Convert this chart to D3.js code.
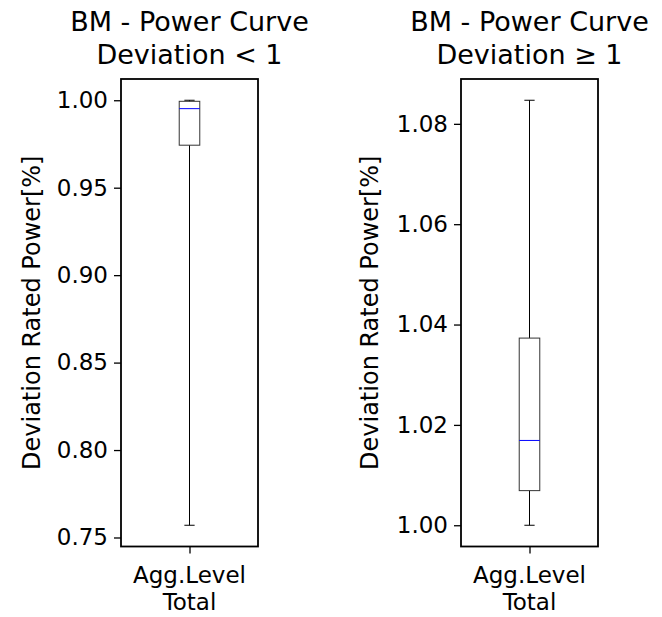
<!DOCTYPE html>
<html>
<head>
<meta charset="utf-8">
<script src="https://cdn.jsdelivr.net/npm/d3@7"></script>
<style>
  body { margin: 0; background: #fff; }
  text { font-family: "DejaVu Sans", sans-serif; fill: #000; }
</style>
</head>
<body>
<svg></svg>
<script>
// data: one box per panel, [whiskerLow, q1, median, q3, whiskerHigh]
const categories = ["Agg.Level\nTotal"];
const titles = [["BM - Power Curve", "Deviation < 1"], ["BM - Power Curve", "Deviation \u2265 1"]];
const lowStats = [0.757, 0.9743, 0.9952, 0.9994, 1.0];
const highStats = [1.0, 1.0069, 1.0169, 1.0373, 1.0847];
const lowTicks = [0.75, 0.80, 0.85, 0.90, 0.95, 1.00];
const highTicks = [1.00, 1.02, 1.04, 1.06, 1.08];
const yLabel = "Deviation Rated Power[%]";

const svg = d3.select("svg")
    .attr("width", 662)
    .attr("height", 617);

const axTop = 79, axBottom = 546.5, axW = 137;
const panels = [
  {left: 121, stats: lowStats, ticks: lowTicks, title: titles[0], ylabX: 32},
  {left: 461, stats: highStats, ticks: highTicks, title: titles[1], ylabX: 370}
];

panels.forEach(function(p) {
  const s = p.stats;
  const pad = (s[4] - s[0]) * 0.05;
  const y = d3.scaleLinear()
      .domain([s[0] - pad, s[4] + pad])
      .range([axBottom, axTop]);
  const x = d3.scalePoint()
      .domain(categories)
      .range([p.left, p.left + axW])
      .padding(0.5);

  const g = svg.append("g");

  // y axis
  const yAxis = g.append("g")
      .attr("transform", `translate(${p.left},0)`)
      .call(d3.axisLeft(y).tickValues(p.ticks).tickFormat(d3.format(".2f")).tickSize(7).tickPadding(6));
  yAxis.select(".domain").remove();
  yAxis.selectAll("line").attr("stroke", "#000").attr("stroke-width", 1.3);
  yAxis.selectAll("text").attr("font-size", 23).attr("font-family", "DejaVu Sans");

  // x axis
  const xAxis = g.append("g")
      .attr("transform", `translate(0,${axBottom})`)
      .call(d3.axisBottom(x).tickSize(7).tickFormat(""));
  xAxis.select(".domain").remove();
  xAxis.selectAll("line").attr("stroke", "#000").attr("stroke-width", 1.3);
  categories.forEach(function(c) {
    const t = g.append("text")
        .attr("text-anchor", "middle")
        .attr("font-size", 23);
    c.split("\n").forEach(function(line, i) {
      t.append("tspan").attr("x", x(c)).attr("y", 583 + i * 27).text(line);
    });
  });

  // box
  const cx = x(categories[0]);
  const bw = axW * 0.15;
  const box = g.append("g").attr("fill", "none").attr("stroke-width", 1);
  box.append("line").attr("x1", cx).attr("x2", cx).attr("y1", y(s[0])).attr("y2", y(s[1])).attr("stroke", "#000");
  box.append("line").attr("x1", cx).attr("x2", cx).attr("y1", y(s[3])).attr("y2", y(s[4])).attr("stroke", "#000");
  box.append("line").attr("x1", cx - bw / 4).attr("x2", cx + bw / 4).attr("y1", y(s[0])).attr("y2", y(s[0])).attr("stroke", "#000");
  box.append("line").attr("x1", cx - bw / 4).attr("x2", cx + bw / 4).attr("y1", y(s[4])).attr("y2", y(s[4])).attr("stroke", "#000");
  box.append("rect").attr("x", cx - bw / 2).attr("width", bw)
      .attr("y", y(s[3])).attr("height", y(s[1]) - y(s[3])).attr("stroke", "#333");
  box.append("line").attr("x1", cx - bw / 2).attr("x2", cx + bw / 2).attr("y1", y(s[2])).attr("y2", y(s[2])).attr("stroke", "#0000ff");

  // frame
  g.append("rect")
      .attr("x", p.left).attr("y", axTop)
      .attr("width", axW).attr("height", axBottom - axTop)
      .attr("fill", "none").attr("stroke", "#000").attr("stroke-width", 1.8);

  // y label
  g.append("text")
      .attr("transform", `translate(${p.ylabX},${(axTop + axBottom) / 2}) rotate(-90)`)
      .attr("text-anchor", "middle")
      .attr("dy", "0.35em")
      .attr("font-size", 24)
      .text(yLabel);

  // title
  const tt = g.append("text").attr("text-anchor", "middle").attr("font-size", 27);
  p.title.forEach(function(line, i) {
    tt.append("tspan").attr("x", p.left + axW / 2).attr("y", 31 + i * 33).text(line);
  });
});
</script>
</body>
</html>
